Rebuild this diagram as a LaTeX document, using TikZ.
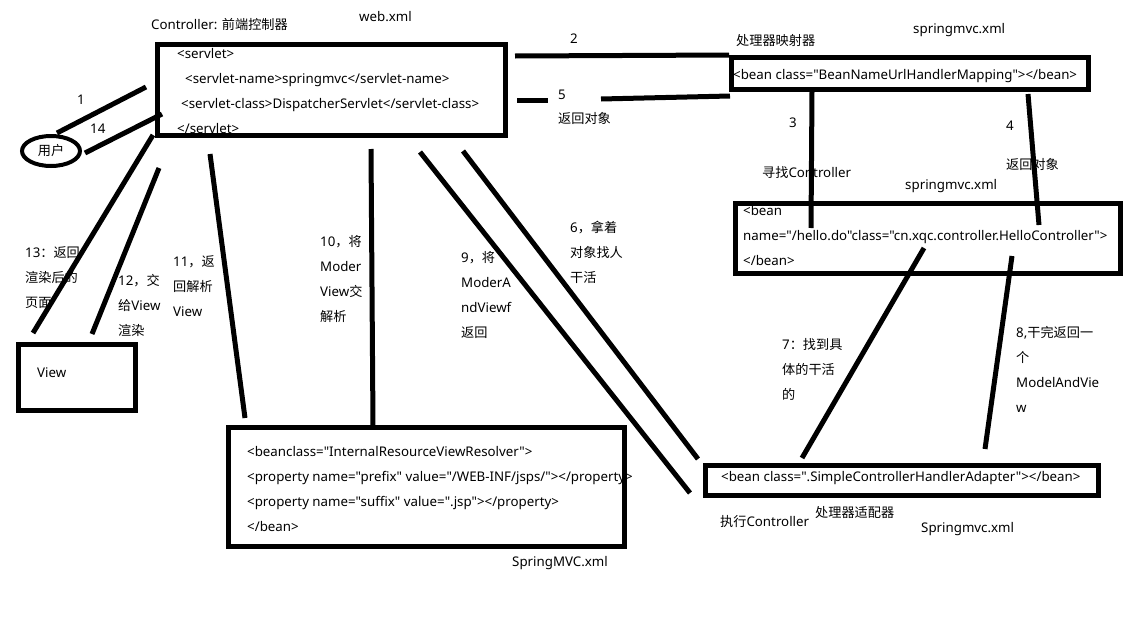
\documentclass[tikz,border=0pt]{standalone}
\usepackage{fontspec}
\setmainfont{Noto Sans}[Ligatures=TeXOff]
\newfontfamily\cjk[Scale=0.99]{Noto Sans CJK SC}
\usetikzlibrary{shapes.geometric}
\newcommand{\zh}[1]{{\cjk #1}}
\begin{document}
\begin{tikzpicture}[x=1pt,y=-1pt,
  box/.style={draw, line width=5pt, inner sep=0pt},
  conn/.style={line width=5pt},
  lbl/.style={inner sep=0pt, anchor=west, font=\fontsize{13.3}{25}\selectfont, align=left},
]
\fill[white] (0,0) rectangle (1130,632);
\useasboundingbox (0,0) rectangle (1130,632);

% ---------- texts ----------
\node[lbl] (tctrl) at (151,24) {Controller: \zh{前端控制器}};
\node[lbl] (tweb) at (359,17) {web.xml};
\node[lbl] (webtxt) at (177,91.5) {<servlet>\\\hspace*{8pt}<servlet-name>springmvc</servlet-name>\\\hspace*{4pt}<servlet-class>DispatcherServlet</servlet-class>\\</servlet>};
\node[lbl] (t1) at (77,100) {1};
\node[lbl] (t14) at (90,129) {14};
\node[lbl] (t2) at (570,39) {2};
\node[lbl] (tmapname) at (736,41) {\zh{处理器映射器}};
\node[lbl] (tsm1) at (913,30) {springmvc.xml};
\node[lbl] (maptxt) at (733,76) {<bean class="BeanNameUrlHandlerMapping"></bean>};
\node[lbl] (t5) at (558,95) {5};
\node[lbl] (t5b) at (558,118) {\zh{返回对象}};
\node[lbl] (t3) at (789,123) {3};
\node[lbl] (t3b) at (762,172) {\zh{寻找}Controller};
\node[lbl] (t4) at (1006,126) {4};
\node[lbl] (t4b) at (1006,164) {\zh{返回对象}};
\node[lbl] (tsm2) at (905,186) {springmvc.xml};
\node[lbl] (hellotxt) at (743,235.5) {<bean\\name="/hello.do"class="cn.xqc.controller.HelloController">\\</bean>};
\node[lbl] (t7) at (782,369.5) {7\zh{：找到具}\\\zh{体的干活}\\\zh{的}};
\node[lbl] (t8) at (1016,369.5) {8,\zh{干完返回一}\\\zh{个}\\ModelAndVie\\w};
\node[lbl] (adtxt) at (721,478) {<bean class=".SimpleControllerHandlerAdapter"></bean>};
\node[lbl] (texec) at (720,522) {\zh{执行}Controller};
\node[lbl] (tadname) at (815,513) {\zh{处理器适配器}};
\node[lbl] (tsm3) at (921,529) {Springmvc.xml};
\node[lbl] (t6) at (570,252) {6\zh{，拿着}\\\zh{对象找人}\\\zh{干活}};
\node[lbl] (t9) at (461,295) {9\zh{，将}\\ModerA\\ndViewf\\\zh{返回}};
\node[lbl] (t10) at (320,279.5) {10\zh{，将}\\Moder\\View\zh{交}\\\zh{解析}};
\node[lbl] (t11) at (173,286.5) {11\zh{，返}\\\zh{回解析}\\View};
\node[lbl] (t12) at (118,305.5) {12\zh{，交}\\\zh{给}View\\\zh{渲染}};
\node[lbl] (t13) at (25,277.5) {13\zh{：返回}\\\zh{渲染后的}\\\zh{页面}};
\node[lbl] (viewtxt) at (37,373) {View};
\node[lbl] (restxt) at (247,489.5) {<beanclass="InternalResourceViewResolver">\\<property name="prefix" value="/WEB-INF/jsps/"></property>\\<property name="suffix" value=".jsp"></property>\\</bean>};
\node[lbl] (tsm4) at (512,563) {SpringMVC.xml};

% ---------- boxes ----------
\node[box, minimum width=348pt, minimum height=91pt] (web) at (331.5,90) {};
\node[box, minimum width=357pt, minimum height=32pt] (map) at (909.5,73.5) {};
\node[box, minimum width=384.5pt, minimum height=70pt] (hello) at (927.75,238) {};
\node[box, minimum width=393pt, minimum height=30pt] (adapter) at (902,480.5) {};
\node[box, minimum width=117pt, minimum height=66pt] (view) at (77,377.5) {};
\node[box, minimum width=396pt, minimum height=119pt] (resolver) at (426.5,487) {};
\node[draw, ellipse, line width=4pt, minimum width=58pt, minimum height=30pt, inner sep=0pt, font=\fontsize{13.3}{14}\selectfont] (user) at (51,151) {\zh{用户}};

% ---------- connector end points ----------
\coordinate (a1) at (57,133);   \coordinate (b1) at (146,87);
\coordinate (a14) at (85,153);  \coordinate (b14) at (162,114);
\coordinate (a2) at (515,56);   \coordinate (b2) at (729,55);
\coordinate (a5) at (517,100);  \coordinate (m5) at (548,100);
\coordinate (n5) at (601,99);   \coordinate (b5) at (730,96);
\coordinate (a3) at (812,91);   \coordinate (b3) at (811,228);
\coordinate (a4) at (1028,94);  \coordinate (b4) at (1039,225);
\coordinate (a6) at (463,151);  \coordinate (b6) at (698,459);
\coordinate (a9) at (420,152);  \coordinate (b9) at (690,493);
\coordinate (a10) at (371,149); \coordinate (b10) at (373,426);
\coordinate (a11) at (210,154); \coordinate (b11) at (245,418);
\coordinate (a12) at (159,168); \coordinate (b12) at (92,334);
\coordinate (a13) at (153,135); \coordinate (b13) at (33,333);
\coordinate (a7) at (924,248);  \coordinate (b7) at (802,458);
\coordinate (a8) at (1012,256); \coordinate (b8) at (985,449);

% ---------- connectors ----------
\draw[conn] (a1) -- (b1);
\draw[conn] (a14) -- (b14);
\draw[conn] (a2) -- (b2);
\draw[conn] (a5) -- (m5);
\draw[conn] (n5) -- (b5);
\draw[conn] (a3) -- (b3);
\draw[conn] (a4) -- (b4);
\draw[conn] (a6) -- (b6);
\draw[conn] (a9) -- (b9);
\draw[conn] (a10) -- (b10);
\draw[conn] (a11) -- (b11);
\draw[conn] (a12) -- (b12);
\draw[conn] (a13) -- (b13);
\draw[conn] (a7) -- (b7);
\draw[conn] (a8) -- (b8);
\end{tikzpicture}
\end{document}
